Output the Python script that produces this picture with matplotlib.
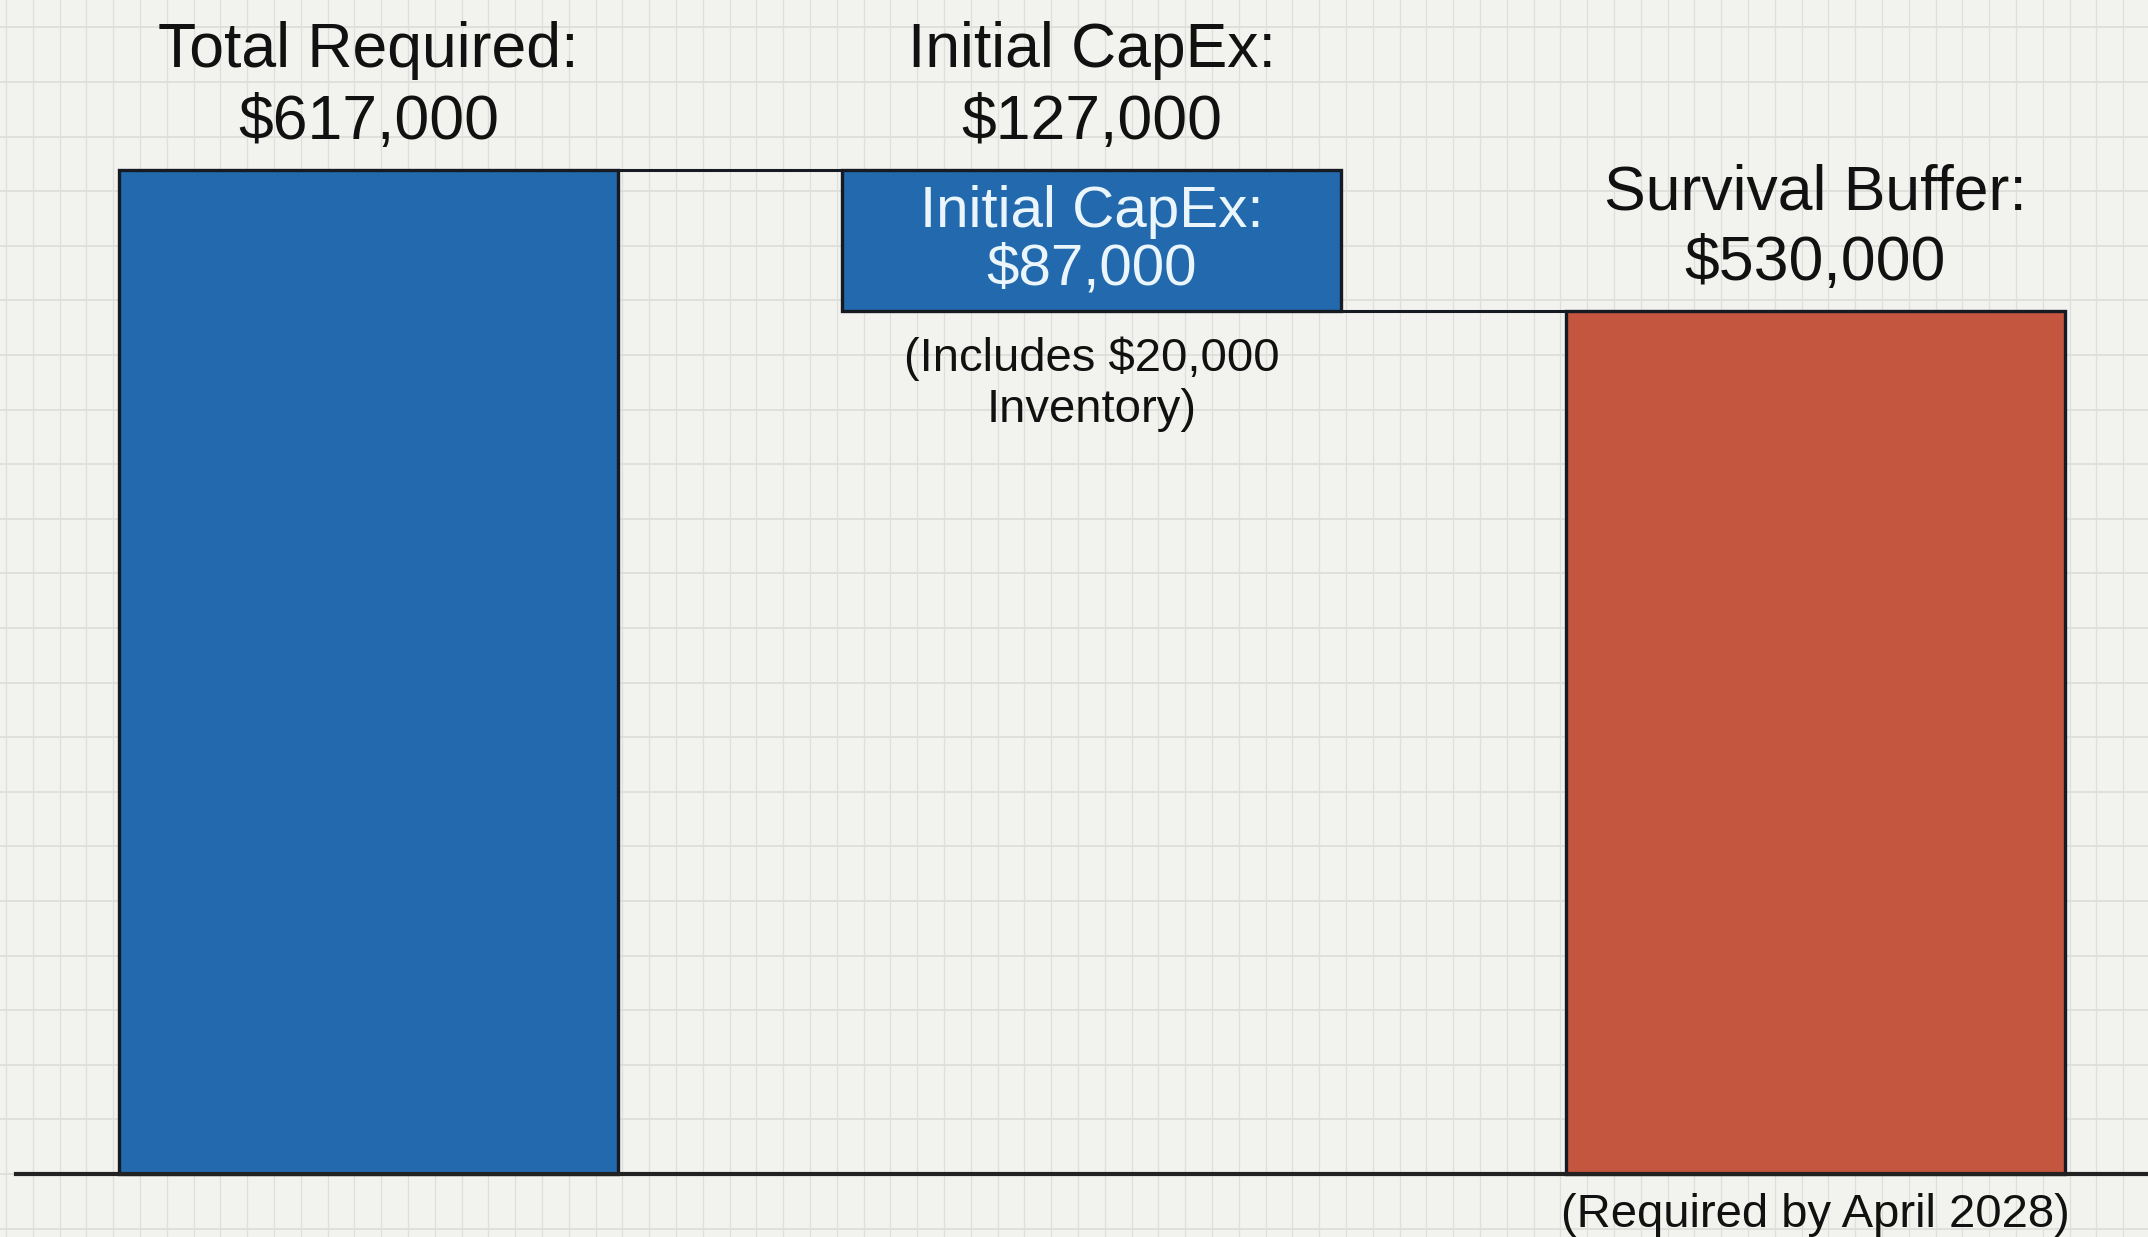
import numpy as np
import matplotlib.pyplot as plt

# Funding waterfall: total requirement, less CapEx, leaves the survival buffer
steps = ["Total Required", "Initial CapEx", "Survival Buffer"]
amounts = [617000, 87000, 530000]
top_labels = ["Total Required:\n$617,000", "Initial CapEx:\n$127,000", "Survival Buffer:\n$530,000"]
capex_inner = "Initial CapEx:\n$87,000"
capex_note = "(Includes $20,000\nInventory)"
buffer_note = "(Required by April 2028)"

BLUE = "#2269ad"
RED = "#c4553f"
EDGE = "#161a22"
BG = "#f2f2ee"
GRID = "#dededa"
FONT = "Liberation Sans"

W, H = 2148, 1237
fig = plt.figure(figsize=(W / 100, H / 100), dpi=100, facecolor=BG)

# background graph-paper grid, laid out in pixels
bg = fig.add_axes([0, 0, 1, 1], zorder=0)
bg.set_xlim(0, W)
bg.set_ylim(H, 0)
bg.set_facecolor(BG)
bg.axis("off")
for gx in np.arange(6, W, 26.8):
    bg.axvline(gx, color=GRID, lw=0.9, zorder=0)
for gy in np.arange(1174 % 54.6, H, 54.6):
    bg.axhline(gy, color=GRID, lw=1.3, zorder=0)

ax = fig.add_axes([0, 0, 1, 1], zorder=1)
ax.patch.set_alpha(0)
ax.axis("off")
ax.set_xlim(-0.5095, 2.4602)
ax.set_ylim(-38700, 721400)

x = np.arange(len(steps))
width = 0.69
total = amounts[0]
bottoms = [0, total - amounts[1], 0]
colors = [BLUE, BLUE, RED]
ax.bar(x, amounts, bottom=bottoms, width=width, color=colors,
       edgecolor=EDGE, linewidth=2.4, zorder=3)

# connectors between the running levels
levels = [total, total - amounts[1]]
for i, lvl in enumerate(levels):
    ax.plot([x[i] + width / 2, x[i + 1] - width / 2], [lvl, lvl],
            color=EDGE, lw=2.2, zorder=3, solid_capstyle="butt")

ax.axhline(0, xmin=12 / 1568, xmax=1, color="#222222", lw=3.0, zorder=4)

tops = [b + a for b, a in zip(bottoms, amounts)]
for xi, top, label in zip(x, tops, top_labels):
    ax.annotate(label, xy=(xi, top), xytext=(0, 13), textcoords="offset points",
                ha="center", va="bottom", fontsize=45, family=FONT,
                color="#111111", linespacing=1.27, zorder=5)

# label inside the floating CapEx block
ax.text(x[1], bottoms[1] + amounts[1] / 2, capex_inner, ha="center", va="center",
        fontsize=42, family=FONT, color="#eaf6fc", linespacing=1.1, zorder=5)

ax.annotate(capex_note, xy=(x[1], bottoms[1]), xytext=(0, -18), textcoords="offset points",
            ha="center", va="top", fontsize=34, family=FONT, color="#111111",
            linespacing=1.2, zorder=5)

ax.annotate(buffer_note, xy=(x[2], 0), xytext=(0, -14), textcoords="offset points",
            ha="center", va="top", fontsize=34, family=FONT, color="#111111", zorder=5)

fig.savefig("out.png", dpi=100, facecolor=BG)
